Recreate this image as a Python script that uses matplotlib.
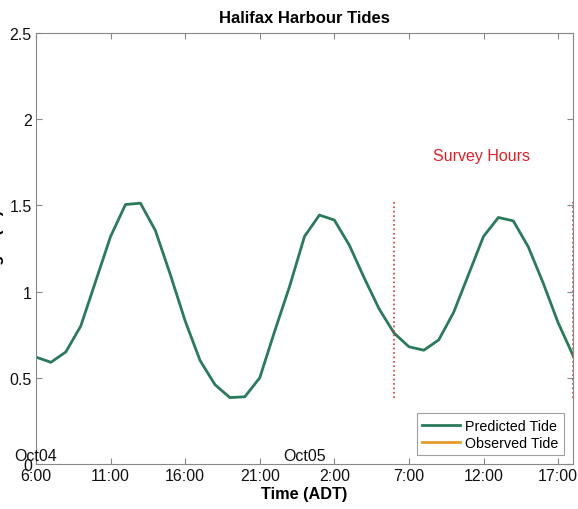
import matplotlib
matplotlib.use('Agg')
import matplotlib.pyplot as plt
import matplotlib.dates as mdates
import pandas as pd

plt.rcParams['font.family'] = ['Liberation Sans', 'DejaVu Sans']

# hourly predicted tide, Oct04 6:00 -> Oct05 18:00
times = pd.date_range('2014-10-04 06:00', '2014-10-05 18:00', freq='1h')
predicted = [0.62, 0.59, 0.65, 0.80, 1.06, 1.32, 1.505, 1.513, 1.355, 1.10,
             0.83, 0.60, 0.46, 0.385, 0.39, 0.50, 0.77, 1.03, 1.32, 1.444,
             1.415, 1.27, 1.08, 0.90, 0.76, 0.68, 0.66, 0.72, 0.88, 1.10,
             1.32, 1.43, 1.41, 1.26, 1.05, 0.82, 0.63]
observed_t = []
observed = []

survey_times = pd.to_datetime(['2014-10-05 06:00', '2014-10-05 18:00'])
survey_lo, survey_hi = 0.38, 1.52
date_labels = ['Oct04', 'Oct05']
date_pos = pd.to_datetime(['2014-10-04 06:00', '2014-10-05 00:00'])
xticks = pd.date_range('2014-10-04 06:00', periods=8, freq='5h')

fig = plt.figure(figsize=(5.78, 5.10), dpi=100)
ax = fig.add_axes([36/578, 1-465/510, 537/578, 431/510])

ax.plot(times, predicted, color='#2b7a5c', lw=2, label='Predicted Tide')
ax.plot(observed_t, observed, color='#e39b2d', lw=2, label='Observed Tide')
ax.vlines(survey_times, survey_lo, survey_hi, colors='#e0303a', linestyles=':', lw=1.2)
ax.text(pd.Timestamp('2014-10-05 11:50'), 1.79, 'Survey Hours', color='#e0202a',
        fontsize=11.5, ha='center', va='center')

ax.set_xlim(times[0], times[-1])
ax.set_ylim(0, 2.5)
ax.set_yticks([0, 0.5, 1, 1.5, 2, 2.5])
ax.set_yticklabels(['0', '0.5', '1', '1.5', '2', '2.5'])
ax.set_xticks(xticks)
ax.xaxis.set_major_formatter(mdates.DateFormatter('%-H:%M'))
ax.tick_params(direction='in', top=True, right=True, length=4, color='#888888',
               labelsize=11.5, labelcolor='#111111', pad=3)
for s in ax.spines.values():
    s.set_color('#888888')

for lab, p in zip(date_labels, date_pos):
    ax.annotate(lab, xy=(p, 0), xycoords=('data', 'axes fraction'),
                xytext=(0, 1), textcoords='offset points',
                ha='center', va='bottom', fontsize=11.5, color='#111111')

ax.set_title('Halifax Harbour Tides', fontsize=12, fontweight='bold', pad=8)
ax.set_xlabel('Time (ADT)', fontsize=11.7, fontweight='bold', labelpad=2)
ax.set_ylabel('Height (m)', fontsize=11.7, fontweight='bold')
ax.yaxis.set_label_coords(-32/537, 0.5)

leg = ax.legend(loc='lower right', fontsize=10.3, frameon=True, fancybox=False,
                handlelength=2.6, borderaxespad=0.6, handletextpad=0.4,
                labelspacing=0.2)
leg.get_frame().set_edgecolor('#888888')
leg.get_frame().set_linewidth(0.8)

fig.savefig('out.png', dpi=100)
